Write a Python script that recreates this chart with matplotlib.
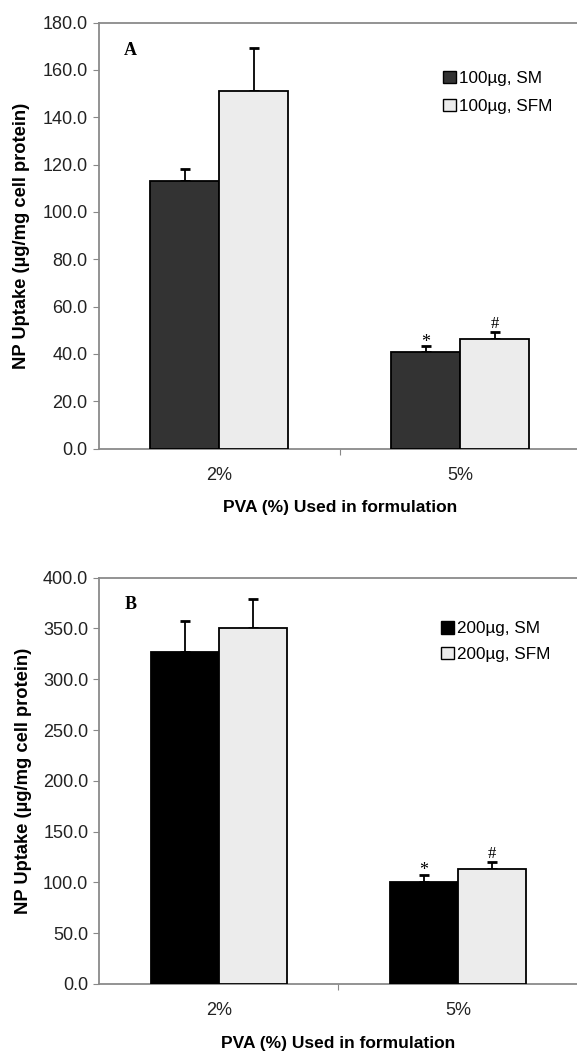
import matplotlib
matplotlib.use("Agg")
import matplotlib.pyplot as plt
import numpy as np

# ---- data ----
categories = ["2%", "5%"]
a_sm = [113.2, 40.6]
a_sm_err = [5.0, 2.5]
a_sfm = [151.2, 46.2]
a_sfm_err = [18.0, 3.2]
b_sm = [326.5, 100.5]
b_sm_err = [31.0, 7.0]
b_sfm = [350.5, 113.0]
b_sfm_err = [28.5, 7.0]
a_labels = ["100µg, SM", "100µg, SFM"]
b_labels = ["200µg, SM", "200µg, SFM"]
a_ticks = [0, 20, 40, 60, 80, 100, 120, 140, 160, 180]
b_ticks = [0, 50, 100, 150, 200, 250, 300, 350, 400]
marks = ["*", "#"]

plt.rcParams['font.family'] = ['Liberation Sans', 'DejaVu Sans']

W, H = 577, 1051
fig = plt.figure(figsize=(W / 100, H / 100), dpi=100)

SFM_COLOR = '#ececec'


def px_axes(l, t, r, b):
    return fig.add_axes([l / W, 1 - b / H, (r - l) / W, (b - t) / H])


def panel(ax, sm, sm_err, sfm, sfm_err, labels, ticks, ymax, sm_color, letter,
          leg_y, leg_sp):
    x = np.arange(len(categories))
    w = 0.2857
    ax.bar(x - w / 2, sm, w, color=sm_color, edgecolor='black', linewidth=1.3, zorder=3)
    ax.bar(x + w / 2, sfm, w, color=SFM_COLOR, edgecolor='black', linewidth=1.3, zorder=3)
    ax.errorbar(x - w / 2, sm, yerr=[np.zeros(len(sm)), sm_err], fmt='none',
                ecolor='black', elinewidth=1.3, capsize=3.6, capthick=2, zorder=2)
    ax.errorbar(x + w / 2, sfm, yerr=[np.zeros(len(sfm)), sfm_err], fmt='none',
                ecolor='black', elinewidth=1.3, capsize=3.6, capthick=2, zorder=2)
    # significance marks on 5%
    ax.annotate(marks[0], (x[1] - w / 2, sm[1] + sm_err[1]), xytext=(0, -3),
                textcoords='offset points', ha='center', va='bottom',
                fontsize=13, family='Liberation Serif')
    ax.annotate(marks[1], (x[1] + w / 2, sfm[1] + sfm_err[1]), xytext=(0, 0),
                textcoords='offset points', ha='center', va='bottom',
                fontsize=12, family='Liberation Serif')

    ax.set_xlim(-0.5, 1.5)
    ax.set_ylim(0, ymax)
    ax.set_yticks(ticks)
    ax.set_yticklabels([f"{t:.1f}" for t in ticks], fontsize=13, color='#222222')
    ax.set_xticks([0.5])
    ax.set_xticklabels([])
    ax.set_xticks(x, minor=True)
    ax.set_xticklabels(categories, minor=True, fontsize=13, color='#222222')
    ax.tick_params(axis='x', which='major', length=4, direction='out', color='#888888')
    ax.tick_params(axis='x', which='minor', length=0, pad=13)
    ax.tick_params(axis='y', length=4, direction='out', color='#888888', pad=4)
    for s in ['left', 'bottom', 'top']:
        ax.spines[s].set_color('#8a8a8a')
        ax.spines[s].set_linewidth(1.3)
    ax.spines['right'].set_visible(False)
    ax.set_ylabel("NP Uptake (µg/mg cell protein)", fontsize=13.2, fontweight='bold')
    ax.yaxis.set_label_coords(-0.142, 0.5)
    ax.set_xlabel("PVA (%) Used in formulation", fontsize=12.5, fontweight='bold',
                  labelpad=12)
    ax.text(0.053, 0.935, letter, transform=ax.transAxes, fontsize=13, fontweight='bold',
            family='Liberation Serif', ha='left', va='center')
    h1 = plt.Rectangle((0, 0), 1, 1, facecolor=sm_color, edgecolor='black', linewidth=1)
    h2 = plt.Rectangle((0, 0), 1, 1, facecolor=SFM_COLOR, edgecolor='black', linewidth=1)
    ax.legend([h1, h2], labels, loc='upper left', bbox_to_anchor=(0.7, leg_y),
              frameon=False, fontsize=12.3, handlelength=0.75, handleheight=0.75,
              handletextpad=0.2, labelspacing=leg_sp, borderaxespad=0)


axA = px_axes(98.6, 22.5, 581, 448.5)
panel(axA, a_sm, a_sm_err, a_sfm, a_sfm_err, a_labels, a_ticks, 180, '#333333', 'A',
      0.903, 0.75)
axB = px_axes(99.4, 577.7, 577.5, 984)
panel(axB, b_sm, b_sm_err, b_sfm, b_sfm_err, b_labels, b_ticks, 400, '#000000', 'B',
      0.91, 0.62)

fig.savefig("out.png", dpi=100)
